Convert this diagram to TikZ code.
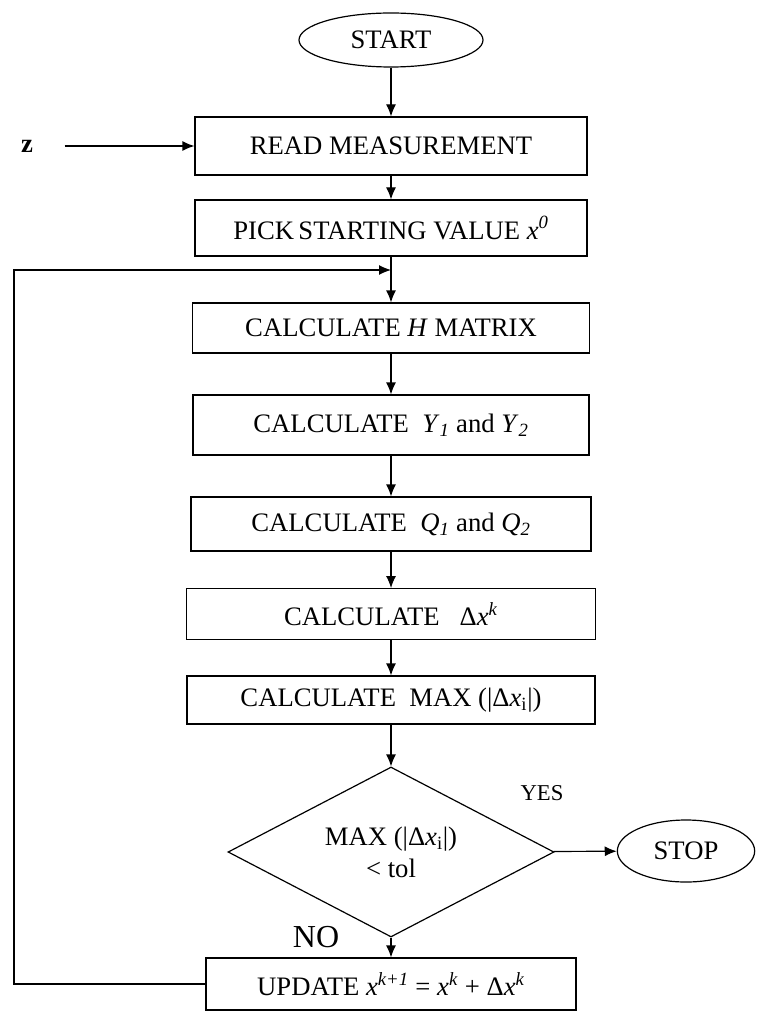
\documentclass[tikz,border=0pt]{standalone}
\usepackage{fontspec}
\setmainfont{Liberation Serif}
\usetikzlibrary{arrows.meta,shapes.geometric}

\begin{document}
\begin{tikzpicture}[x=0.75pt,y=-0.75pt,>={Latex[length=9pt,width=7.5pt]},line width=0.9pt,
every node/.style={font=\fontsize{20}{24}\selectfont},
procbox/.style={draw, rectangle, inner sep=0pt},
termnode/.style={draw, ellipse, inner sep=0pt},
decision/.style={draw, diamond, aspect=2, inner sep=0pt, align=center}]
\useasboundingbox (0,0) rectangle (756,1012);
\node (start) at (391,40) [termnode, minimum width=138pt, minimum height=40.5pt] {START};
\node (read) at (391,146) [procbox, minimum width=294pt, minimum height=43.5pt] {READ MEASUREMENT};
\node (z) at (27,146) {\textbf{z}};
\node (pick) at (391,228) [procbox, minimum width=294pt, minimum height=42pt]
  {PICK\,STARTING VALUE \textit{x}\textsuperscript{\textit{0}}};
\node (hmat) at (391,328) [procbox, minimum width=298pt, minimum height=37.5pt]
  {CALCULATE \textit{H} MATRIX};
\node (yval) at (391,425) [procbox, minimum width=297pt, minimum height=45pt]
  {CALCULATE~~\textit{Y}\textsubscript{\textit{1}} and \textit{Y}\textsubscript{\textit{2}}};
\node (qval) at (391,524) [procbox, minimum width=300pt, minimum height=40.5pt]
  {CALCULATE~~\textit{Q}\textsubscript{\textit{1}} and \textit{Q}\textsubscript{\textit{2}}};
\node (dxk) at (391,614) [procbox, minimum width=307pt, minimum height=38pt]
  {CALCULATE~~~Δ\textit{x}\textsuperscript{\textit{k}}};
\node (maxd) at (391,700) [procbox, minimum width=306pt, minimum height=36pt]
  {CALCULATE~~MAX (|Δ\textit{x}\textsubscript{i}|)};
\node (cond) at (391,852) [decision, minimum width=244.5pt, minimum height=127.5pt]
  {MAX (|Δ\textit{x}\textsubscript{i}|)\\< tol};
\node (stop) at (686,851) [termnode, minimum width=103pt, minimum height=46.5pt] {STOP};
\node (update) at (391,984) [procbox, minimum width=277.5pt, minimum height=39pt]
  {UPDATE \textit{x}\textsuperscript{\textit{k+1}} = \textit{x}\textsuperscript{\textit{k}} + Δ\textit{x}\textsuperscript{\textit{k}}};
\node (yes) at (542,793) [font=\fontsize{17}{20}\selectfont] {YES};
\node (no) at (316,937) [font=\fontsize{24}{28}\selectfont] {NO};
\coordinate (back) at (14,270);
\begin{scope}[->]
\draw (start)--(read);
\draw [shorten <=20pt](z)--(read);
\draw (read)--(pick);
\draw (pick)--(hmat);
\draw (hmat)--(yval);
\draw (yval)--(qval);
\draw (qval)--(dxk);
\draw (dxk)--(maxd);
\draw (maxd)--(cond);
\draw (cond)--(stop);
\draw (cond)--(update);
\draw (update.west) -| (back) -- (back -| pick);
\end{scope}
\end{tikzpicture}
\end{document}
